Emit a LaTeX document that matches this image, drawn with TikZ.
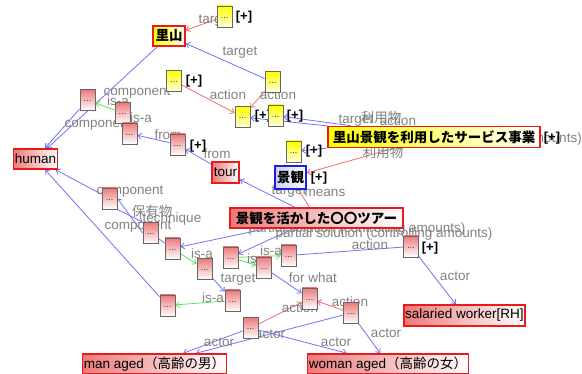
\documentclass[tikz,border=0pt]{standalone}
\usepackage{fontspec}
\setmainfont{Liberation Sans}
\newfontfamily\cjk{Noto Sans CJK JP}
\usetikzlibrary{arrows.meta}
\definecolor{eblue}{RGB}{115,115,245}
\definecolor{ered}{RGB}{240,110,110}
\definecolor{egreen}{RGB}{90,225,90}
\definecolor{labgray}{RGB}{130,130,130}
\definecolor{nodered}{RGB}{235,25,25}
\definecolor{pinkA}{RGB}{236,122,122}
\definecolor{yelA}{RGB}{255,255,0}
\definecolor{bluebd}{RGB}{30,30,220}
\definecolor{bluefill}{RGB}{205,205,245}
\pgfdeclarelayer{paper}
\pgfdeclarelayer{edges}
\pgfdeclarelayer{labels}
\pgfsetlayers{paper,edges,labels,main}
\tikzset{
  lab/.style={text=labgray, font=\fontsize{13.5}{15}\selectfont, inner sep=0pt},
  plus/.style={font=\bfseries\fontsize{13}{15}\selectfont, inner sep=0pt},
  sbox/.style={draw=black!60, line width=0.8pt, minimum width=15pt, minimum height=21pt,
    inner sep=0pt, font=\fontsize{9}{9}\selectfont, text=black!80},
  pbox/.style={sbox, top color=pinkA, bottom color=white},
  ybox/.style={sbox, top color=yelA, bottom color=yelA!12},
  bigbox/.style={draw=nodered, line width=1.6pt, minimum height=20pt, inner sep=1.5pt,
    font=\fontsize{13.5}{15}\selectfont},
  pbig/.style={bigbox, left color=pinkA, right color=white},
  ybig/.style={bigbox, left color=yelA, right color=white},
  arr/.style={line width=0.8pt, -{Straight Barb[length=3.5pt,width=6pt]}},
  be/.style={arr, draw=eblue},
  re/.style={arr, draw=ered},
  ge/.style={arr, draw=egreen},
  bl/.style={line width=0.8pt, draw=eblue},
  rl/.style={line width=0.8pt, draw=ered}
}
\newcommand{\dd}{\raisebox{-4pt}{...}}
\begin{document}
\begin{tikzpicture}[x=1pt,y=-1pt]
\useasboundingbox (0,0) rectangle (582,374);
\begin{pgfonlayer}{paper}
\fill[white] (0,0) rectangle (582,374);
\end{pgfonlayer}

% ---------- labels ----------
\begin{pgfonlayer}{labels}
\node[lab] (l1) at (216,21) {target};
\node[lab] (l2) at (240,53) {target};
\node[lab] (l3) at (228,95) {action};
\node[lab] (l4) at (278,95) {action};
\node[lab] (l5) at (356,121) {target};
\node[lab] (l7) at (398,121) {action};
\node[lab] (l6) at (381,117) {\cjk 利用物};
\node[lab] (l8) at (383,152) {\cjk 利用物};
\node[lab,anchor=east] (l9) at (582,139) {partial solution (controlling amounts)};
\node[lab] (l10) at (137,93) {component};
\node[lab] (l11) at (118,101) {is-a};
\node[lab] (l12) at (141,118) {is-a};
\node[lab] (l13) at (98,125) {component};
\node[lab] (l14) at (168,135) {from};
\node[lab] (l15) at (217,154) {from};
\node[lab] (l16) at (289,192) {target};
\node[lab] (l17) at (325,193) {means};
\node[lab] (l18) at (130,192) {component};
\node[lab] (l19) at (152,211) {\cjk 保有物};
\node[lab] (l20) at (172,219) {technique};
\node[lab] (l21) at (138,227) {component};
\node[lab] (l22) at (357,229) {partial solution (controlling amounts)};
\node[lab] (l23) at (384,234) {partial solution (controlling amounts)};
\node[lab] (l24) at (370,245) {action};
\node[lab] (l25) at (202,254) {is-a};
\node[lab] (l26) at (271,251) {is-a};
\node[lab] (l27) at (258,259) {is-a};
\node[lab] (l28) at (238,280) {target};
\node[lab] (l29) at (313,278) {for what};
\node[lab] (l30) at (213,298) {is-a};
\node[lab] (l31) at (350,302) {action};
\node[lab] (l32) at (300,308) {action};
\node[lab] (l33) at (219,342) {actor};
\node[lab] (l34) at (270,334) {actor};
\node[lab] (l35) at (336,342) {actor};
\node[lab] (l36) at (386,333) {actor};
\node[lab] (l37) at (455,276) {actor};
\end{pgfonlayer}

% ---------- big nodes ----------
\node[ybig, minimum width=32pt] (sat) at (169,36) {\cjk\bfseries 里山};
\node[pbig, minimum width=43pt] (hum) at (35.5,159) {human};
\node[pbig, minimum width=27pt, minimum height=21pt] (tour) at (225.5,172.5) {tour};
\node[bigbox, draw=bluebd, left color=bluefill, right color=white, minimum width=31pt, minimum height=23pt] (kei) at (290.5,177.5) {\cjk\bfseries 景観};
\node[ybig, minimum width=212pt, minimum height=21pt] (svc) at (434,137) {\cjk\bfseries 里山景観を利用したサービス事業};
\node[pbig, minimum width=173pt] (tsr) at (316.5,218) {\cjk\bfseries 景観を活かした〇〇ツアー};
\node[pbig, minimum width=119pt, minimum height=21pt] (sal) at (464.5,315.5) {salaried worker[RH]};
\node[pbig, minimum width=141pt] (man) at (154.5,364) {man aged{\cjk（高齢の男）}};
\node[pbig, minimum width=160pt] (wom) at (388,364) {woman aged{\cjk（高齢の女）}};

% ---------- small nodes ----------
\node[ybox] (Y1) at (224.5,16.5) {\dd};
\node[ybox] (Y2) at (272.5,82) {\dd};
\node[ybox] (Y3) at (174,81) {\dd};
\node[ybox] (Y4) at (242.5,117) {\dd};
\node[plus] (pY4) at (263,116) {[+]};
\node[ybox] (Y5) at (275.5,115.5) {\dd};
\node[ybox] (Y6) at (293.5,151.5) {\dd};
\node[pbox] (P1) at (87.5,100) {\dd};
\node[pbox] (P2) at (122.5,113) {\dd};
\node[pbox] (P3) at (129.5,133.5) {\dd};
\node[pbox] (P4) at (177.5,144.5) {\dd};
\node[pbox] (P5) at (109.5,198.5) {\dd};
\node[pbox] (P6) at (150.5,233) {\dd};
\node[pbox] (P7) at (172.5,248.5) {\dd};
\node[pbox] (P8) at (204.5,269) {\dd};
\node[pbox] (P9) at (167.5,305.5) {\dd};
\node[pbox] (P10) at (230.5,257.5) {\dd};
\node[pbox] (P11) at (264,267.5) {\dd};
\node[pbox] (P12) at (288.5,255.5) {\dd};
\node[pbox] (P13) at (232.5,300.5) {\dd};
\node[pbox] (P14) at (309.5,298.5) {\dd};
\node[pbox] (P15) at (351,313) {\dd};
\node[pbox] (P16) at (250.5,328) {\dd};
\node[pbox] (P17) at (411,246.5) {\dd};

% ---------- [+] marks ----------
\node[plus] (pY1) at (244,17) {[+]};
\node[plus] (pY3) at (194,81) {[+]};
\node[plus] (pY5) at (295,116) {[+]};
\node[plus] (pY6) at (314,151) {[+]};
\node[plus] (pkei) at (319,178) {[+]};
\node[plus] (psvc) at (552,138) {[+]};
\node[plus] (pP4) at (198,146) {[+]};
\node[plus] (pP17) at (430,248) {[+]};

% ---------- edges ----------
\begin{pgfonlayer}{edges}
\draw[be] (sat) -- (hum);
\draw[be] (P1) -- (hum);
\draw[ge] (P2) -- (P1);
\draw[be] (P4) -- (P3);
\draw[be] (tour) -- (P4);
\draw[re] (Y1) -- (sat);
\draw[be] (Y2) -- (sat);
\draw[re] (Y3) -- (Y4);
\draw[re] (Y2) -- (Y4);
\draw[be] (svc) -- (Y4);
\draw[be] (svc) -- (Y5);
\draw[be] (svc) -- (Y6);
\draw[re] (svc) -- (kei);
\draw[rl] (tsr) -- (kei);
\draw[be] (tsr) -- (tour);
\draw[be] (tsr) -- (P7);
\draw[be] (tsr) -- (P10);
\draw[be] (P5) -- (hum);
\draw[be] (P9) -- (hum);
\draw[be] (P5.south east) -- (P6.north west);
\draw[be] (P6.west) -- (P5.east);
\draw[bl] (P6) -- (P7);
\draw[ge] (P7) -- (P8);
\draw[ge] (P10) -- (P11);
\draw[ge] (P10) -- (P12);
\draw[bl] (P12) -- (P17);
\draw[be] (P17) -- (sal);
\draw[be] (P8) -- (P13);
\draw[ge] (P13) -- (P9);
\draw[be] (P11) -- (P14);
\draw[re] (P15) -- (P14);
\draw[re] (P16) -- (P14);
\draw[be] (P15) -- (wom);
\draw[be] (P15) -- (man);
\draw[be] (P16) -- (man);
\draw[be] (P16) -- (wom);
\end{pgfonlayer}
\end{tikzpicture}
\end{document}
